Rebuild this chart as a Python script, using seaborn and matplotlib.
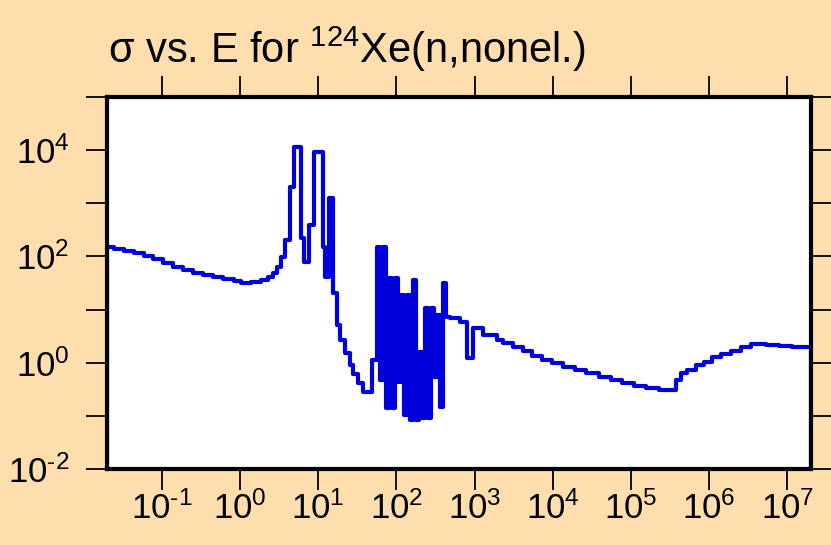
import numpy as np
import pandas as pd
import seaborn as sns
import matplotlib.pyplot as plt
from matplotlib.ticker import FuncFormatter, NullLocator

# step start energies (eV) and cross sections (b)
energy = [0.02, 0.02, 0.0248, 0.0332, 0.0445, 0.0597, 0.0777, 0.104, 0.140, 0.187,
          0.251, 0.337, 0.452, 0.605, 0.836, 1.03, 1.38, 1.85, 2.27, 2.62,
          2.95, 3.32, 3.73, 4.32, 4.86, 5.97, 6.52, 7.55, 8.74, 11.4,
          12.4, 13.6, 15.7, 17.2, 19.3, 22.3, 25.9, 28.2, 32.7, 37.9,
          49.3, 57.1, 62.4, 68.1, 74.3, 81.2, 88.7, 96.8, 106, 115,
          126, 138, 150, 164, 179, 196, 214, 233, 255, 278,
          304, 332, 362, 396, 432, 486, 652, 800,
          955, 1280, 1930, 2300, 3080, 4140, 5380, 7220, 9680, 13400,
          19000, 27000, 39500, 56300, 77700, 1.1e5, 1.57e5, 2.3e5, 3.79e5, 4.39e5,
          5.23e5, 6.81e5, 8.61e5, 1.09e6, 1.42e6, 1.9e6, 2.55e6, 3.42e6, 5.31e6, 7.76e6,
          1.14e7, 2e7]
sigma = [0.001, 153, 138, 127, 116, 104, 89.8, 75.5, 64.3, 55.7,
         49.6, 44.9, 40.7, 37.3, 34.7, 32.2, 33.6, 36.2, 41.2, 49.0,
         64.3, 99.1, 204, 2050, 11400, 223, 79.9, 391, 9170, 151,
         41.2, 1260, 20.6, 5.17, 2.70, 1.54, 0.917, 0.622, 0.421, 0.285,
         1.14, 151, 0.479, 151, 0.143, 39.5, 0.143, 39.5, 0.440, 18.9,
         0.106, 18.9, 0.0851, 36.2, 0.0851, 1.61, 0.0927, 10.8, 0.0927, 10.8,
         0.546, 7.97, 0.149, 31.8, 7.31, 7.00, 5.89, 1.24,
         4.54, 3.36, 2.70, 2.37, 2.00, 1.68, 1.35, 1.14, 1.00, 0.841,
         0.739, 0.649, 0.546, 0.479, 0.421, 0.370, 0.339, 0.311, 0.479, 0.649,
         0.739, 0.917, 1.04, 1.30, 1.48, 1.68, 2.00, 2.27, 2.18, 2.08,
         2.00, 0.001]

# tick positions (decades)
xticks = [1e-1, 1e0, 1e1, 1e2, 1e3, 1e4, 1e5, 1e6, 1e7]
yticks = [1e-2, 1e-1, 1e0, 1e1, 1e2, 1e3, 1e4, 1e5]

df = pd.DataFrame({'E': energy, 'sigma': sigma})

sns.set_style('ticks')
plt.rcParams['font.family'] = ['Liberation Sans', 'DejaVu Sans']
plt.rcParams['mathtext.fontset'] = 'custom'
plt.rcParams['mathtext.rm'] = 'Liberation Sans'
plt.rcParams['mathtext.default'] = 'regular'
plt.rcParams['text.color'] = 'black'
plt.rcParams['xtick.color'] = 'black'
plt.rcParams['ytick.color'] = 'black'

bg = '#FFDEAD'
fig = plt.figure(figsize=(8.31, 5.45), dpi=100, facecolor=bg)
ax = fig.add_axes([0.1288, 0.1394, 0.847, 0.6826])
ax.set_facecolor('white')

sns.lineplot(data=df, x='E', y='sigma', ax=ax, estimator=None, sort=False,
             drawstyle='steps-post', color='#0000DC', linewidth=3.0)

ax.set_xscale('log')
ax.set_yscale('log')
ax.set_xticks(xticks)
ax.set_yticks(yticks)
ax.xaxis.set_minor_locator(NullLocator())
ax.yaxis.set_minor_locator(NullLocator())
ax.set_xlim(0.02, 2e7)
ax.set_ylim(1e-2, 1e5)
ax.set_xlabel('')
ax.set_ylabel('')


def pow10(e):
    # plain hyphen for negative exponents, like the original
    if e < 0:
        return r'$10^{\text{-}%d}$' % (-e)
    return r'$10^{%d}$' % e


def xfmt(v, pos):
    return pow10(int(round(np.log10(v))))


def yfmt(v, pos):
    e = int(round(np.log10(v)))
    return pow10(e) if e % 2 == 0 else ''


ax.xaxis.set_major_formatter(FuncFormatter(xfmt))
ax.yaxis.set_major_formatter(FuncFormatter(yfmt))

ax.tick_params(which='major', direction='out', length=15, width=1.3,
               top=True, right=True, labelsize=25, color='black',
               labelcolor='black')
ax.tick_params(axis='x', pad=1)
ax.tick_params(axis='y', pad=12)

for sp in ax.spines.values():
    sp.set_visible(True)
    sp.set_linewidth(3)
    sp.set_color('black')

fig.text(0.13, 0.884, r'σ vs. E for $^{124}$Xe(n,nonel.)', fontsize=30,
         ha='left', va='baseline', color='black')

plt.savefig('out.png', dpi=100, facecolor=bg)
